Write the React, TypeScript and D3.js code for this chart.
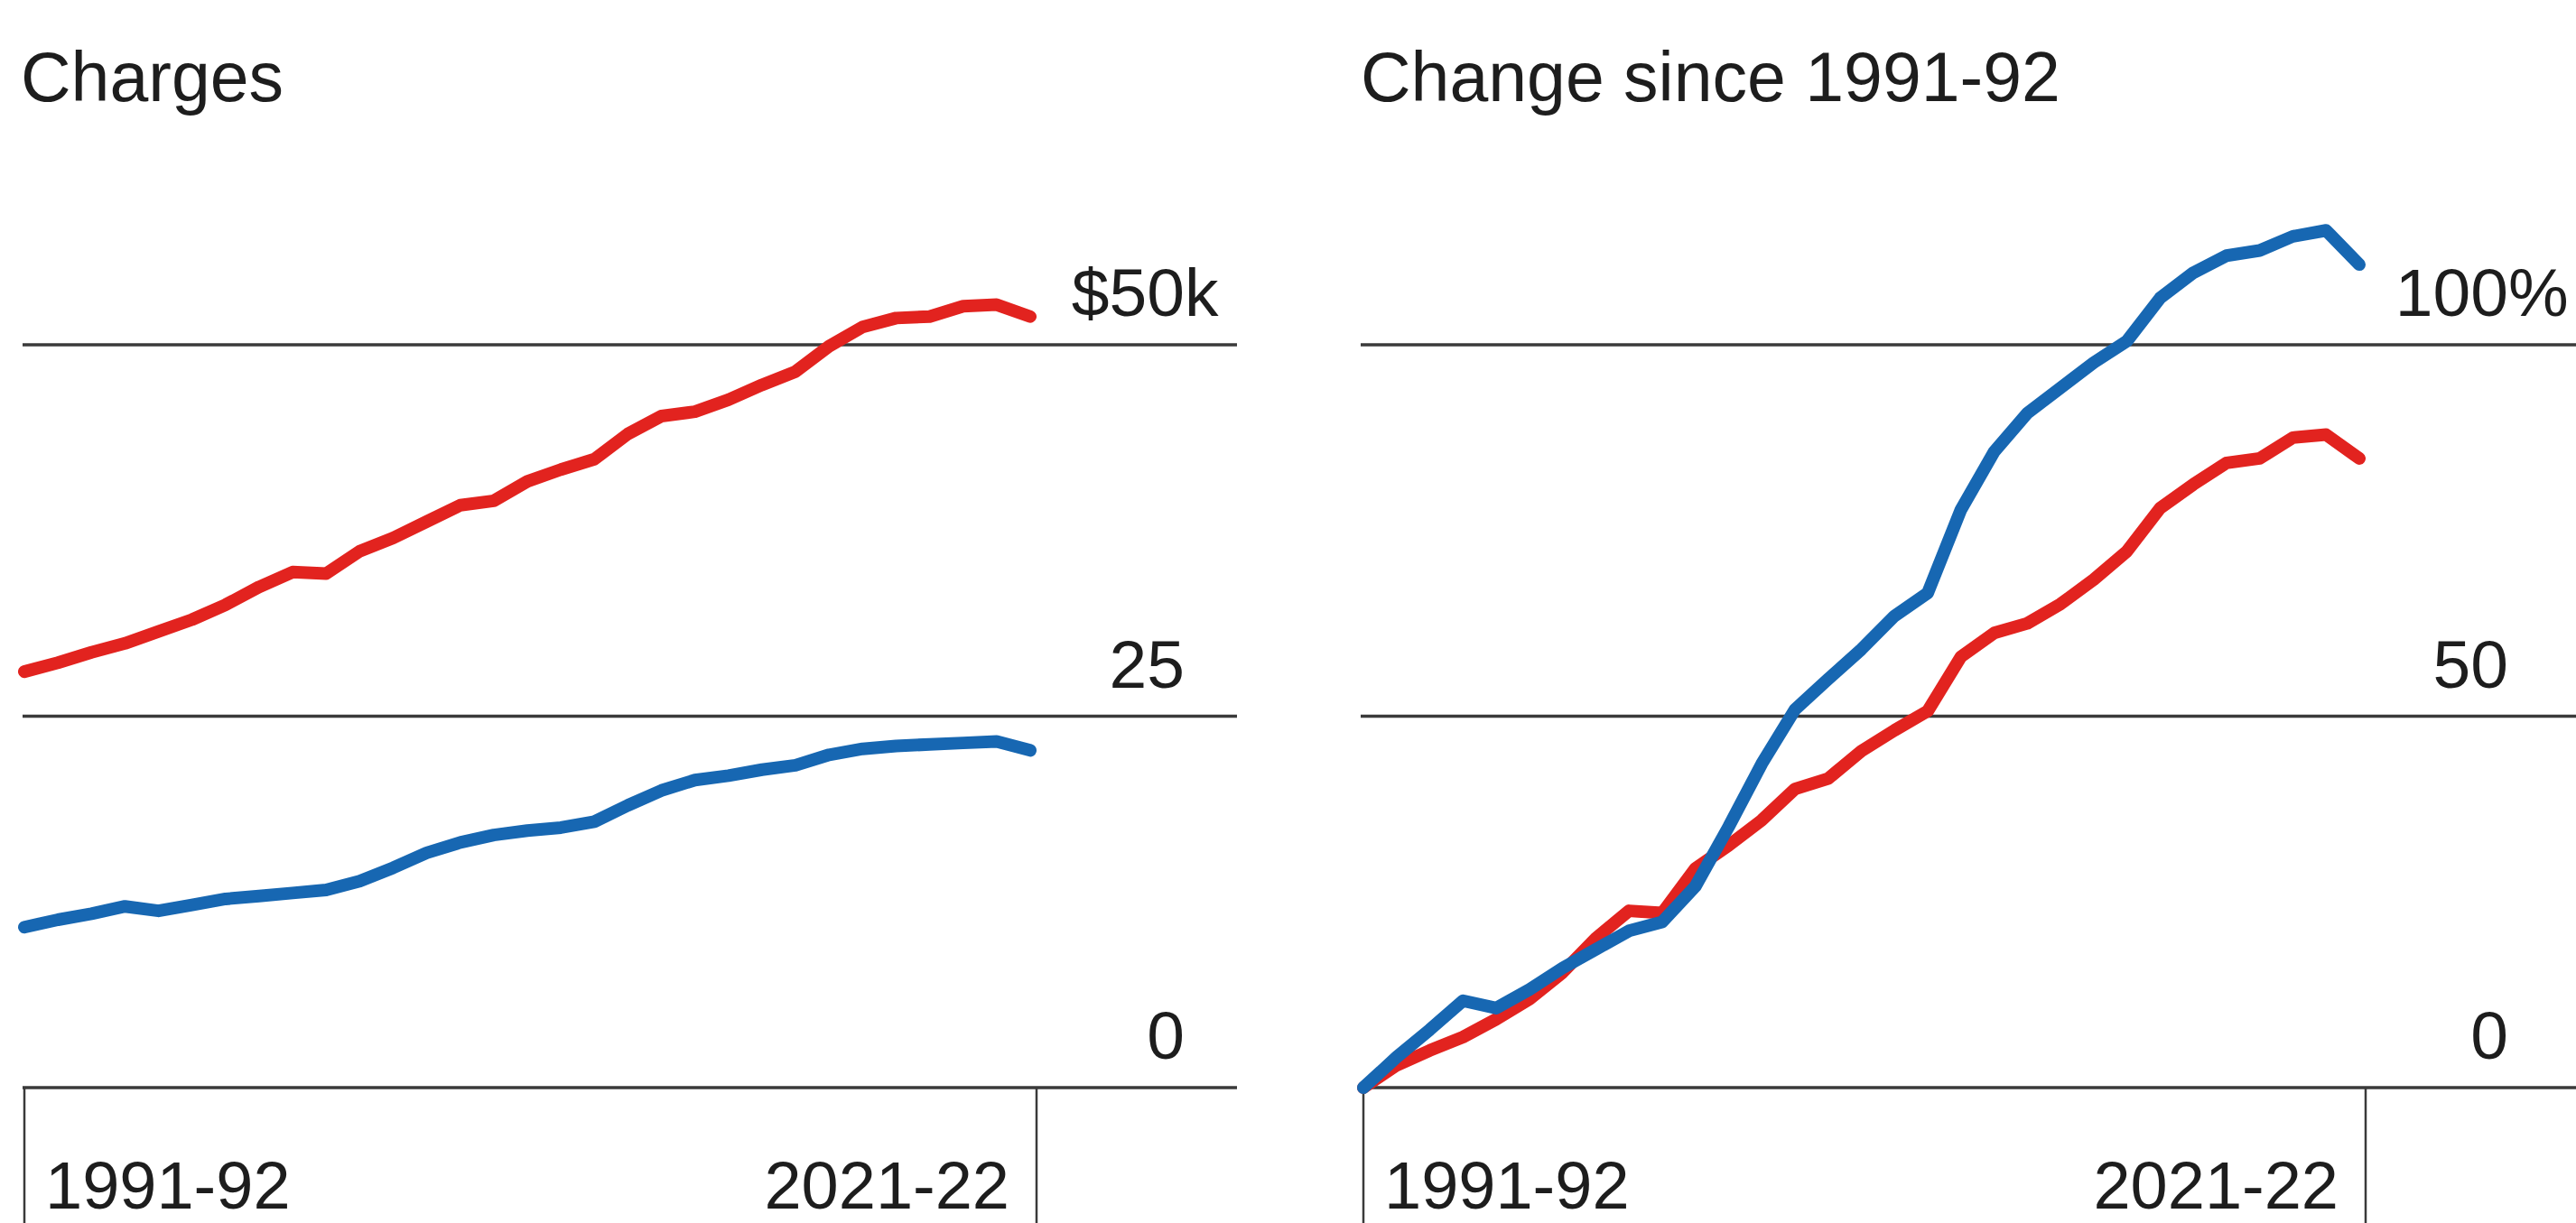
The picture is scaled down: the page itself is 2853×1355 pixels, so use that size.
import React, { useEffect, useRef } from 'react';
import * as d3 from 'd3';

// academic years on the x axis
const seasons = [
    '1991-92', '1992-93', '1993-94', '1994-95', '1995-96', '1996-97', '1997-98', '1998-99',
    '1999-00', '2000-01', '2001-02', '2002-03', '2003-04', '2004-05', '2005-06', '2006-07',
    '2007-08', '2008-09', '2009-10', '2010-11', '2011-12', '2012-13', '2013-14', '2014-15',
    '2015-16', '2016-17', '2017-18', '2018-19', '2019-20', '2020-21', '2021-22',
];

// charges, thousands of dollars
const chargesPrivate = [
    28.0, 28.6, 29.3, 29.9, 30.7, 31.5, 32.5, 33.7, 34.7, 34.6, 36.1, 37.0, 38.1, 39.2, 39.5, 40.8,
    41.6, 42.3, 44.0, 45.2, 45.5, 46.3, 47.3, 48.2, 49.9, 51.2, 51.8, 51.9, 52.6, 52.7, 51.9,
];
const chargesPublic = [
    10.8, 11.3, 11.7, 12.2, 11.9, 12.3, 12.7, 12.9, 13.1, 13.3, 13.9, 14.8, 15.8, 16.5, 17.0, 17.3,
    17.5, 17.9, 19.0, 20.0, 20.7, 21.0, 21.4, 21.7, 22.4, 22.8, 23.0, 23.1, 23.2, 23.3, 22.7,
];

// change since 1991-92, percent
const changePrivate = [
    0, 3.0, 5.0, 6.8, 9.2, 11.9, 15.5, 20.1, 23.8, 23.5, 29.5, 32.6, 36.0, 40.2, 41.6, 45.3,
    48.1, 50.7, 58.0, 61.2, 62.5, 65.1, 68.4, 72.2, 78.0, 81.2, 84.1, 84.7, 87.5, 87.9, 84.7,
];
const changePublic = [
    0, 4.1, 7.8, 11.7, 10.7, 13.2, 16.1, 18.6, 21.1, 22.3, 27.1, 35.1, 43.6, 50.9, 55.0, 59.0,
    63.5, 66.6, 77.8, 85.6, 90.8, 94.2, 97.6, 100.5, 106.3, 109.7, 112.0, 112.7, 114.6, 115.4, 110.8,
];

const chargesTicks = [0, 25, 50];
const changeTicks = [0, 50, 100];
const xTickLabels = ['1991-92', '2021-22'];

const RED = '#e2231f';
const BLUE = '#1767b2';
const INK = '#1d1d1d';
const RULE = '#3a3a3a';
const FONT = "'Liberation Sans', Arial, Helvetica, sans-serif";

const W = 2853;
const H = 1355;

const App: React.FC = () => {
    const svgRef = useRef<SVGSVGElement | null>(null);

    useEffect(() => {
        if (!svgRef.current) return;
        const svg = d3.select(svgRef.current);
        svg.selectAll('*').remove();

        const panels = [
            {
                title: 'Charges', titleX: 23, x0: 27, x1: 1141, gridX0: 25, gridX1: 1370, labelRight: 1312,
                ticks: chargesTicks, domain: [0, 50], prefix: '$', suffix: 'k',
                series: [
                    { values: chargesPublic, color: BLUE },
                    { values: chargesPrivate, color: RED },
                ],
            },
            {
                title: 'Change since 1991-92', titleX: 1507, x0: 1510, x1: 2613, gridX0: 1507, gridX1: 2853, labelRight: 2778,
                ticks: changeTicks, domain: [0, 100], prefix: '', suffix: '%',
                series: [
                    { values: changePrivate, color: RED },
                    { values: changePublic, color: BLUE },
                ],
            },
        ];

        const yTop = 382;
        const yBase = 1205;

        panels.forEach((p) => {
            const g = svg.append('g');
            const x = d3.scalePoint<string>().domain(seasons).range([p.x0, p.x1]);
            const y = d3.scaleLinear().domain(p.domain).range([yBase, yTop]);

            g.append('text')
                .attr('x', p.titleX)
                .attr('y', 112)
                .attr('font-size', 77)
                .attr('fill', INK)
                .text(p.title);

            // horizontal rules
            g.selectAll('.grid')
                .data(p.ticks)
                .enter()
                .append('line')
                .attr('x1', p.gridX0)
                .attr('x2', p.gridX1)
                .attr('y1', (d) => y(d))
                .attr('y2', (d) => y(d))
                .attr('stroke', RULE)
                .attr('stroke-width', 3.5);

            // y labels, prefix / suffix hang outside the number
            p.ticks.forEach((t, i) => {
                const last = i === p.ticks.length - 1;
                const ty = y(t) - 32;
                const num = g.append('text')
                    .attr('x', p.labelRight)
                    .attr('y', ty)
                    .attr('text-anchor', 'end')
                    .attr('font-size', 75)
                    .attr('fill', INK)
                    .text(`${t}`);
                if (last) {
                    const w = (num.node() as SVGTextElement).getComputedTextLength();
                    if (p.prefix) {
                        g.append('text')
                            .attr('x', p.labelRight - w)
                            .attr('y', ty)
                            .attr('text-anchor', 'end')
                            .attr('font-size', 75)
                            .attr('fill', INK)
                            .text(p.prefix);
                    }
                    g.append('text')
                        .attr('x', p.labelRight)
                        .attr('y', ty)
                        .attr('font-size', 75)
                        .attr('fill', INK)
                        .text(p.suffix);
                }
            });

            // x axis: left edge line and end tick
            const edge = [x(xTickLabels[0]) as number, (x(xTickLabels[1]) as number) + 7];
            g.selectAll('.xtick')
                .data(edge)
                .enter()
                .append('line')
                .attr('x1', (d) => d)
                .attr('x2', (d) => d)
                .attr('y1', yBase)
                .attr('y2', H)
                .attr('stroke', RULE)
                .attr('stroke-width', 2.5);

            g.append('text')
                .attr('x', edge[0] + 23)
                .attr('y', 1339)
                .attr('font-size', 74)
                .attr('fill', INK)
                .text(xTickLabels[0]);
            g.append('text')
                .attr('x', edge[1] - 30)
                .attr('y', 1339)
                .attr('text-anchor', 'end')
                .attr('font-size', 74)
                .attr('fill', INK)
                .text(xTickLabels[1]);

            const line = d3.line<number>()
                .x((_, i) => x(seasons[i]) as number)
                .y((d) => y(d));

            p.series.forEach((s) => {
                g.append('path')
                    .datum(s.values)
                    .attr('d', line)
                    .attr('fill', 'none')
                    .attr('stroke', s.color)
                    .attr('stroke-width', 14)
                    .attr('stroke-linejoin', 'round')
                    .attr('stroke-linecap', 'round');
            });
        });
    }, []);

    return (
        <svg
            ref={svgRef}
            width={W}
            height={H}
            style={{ position: 'absolute', left: 0, top: 0, background: '#fff', fontFamily: FONT }}
        />
    );
};

export default App;
